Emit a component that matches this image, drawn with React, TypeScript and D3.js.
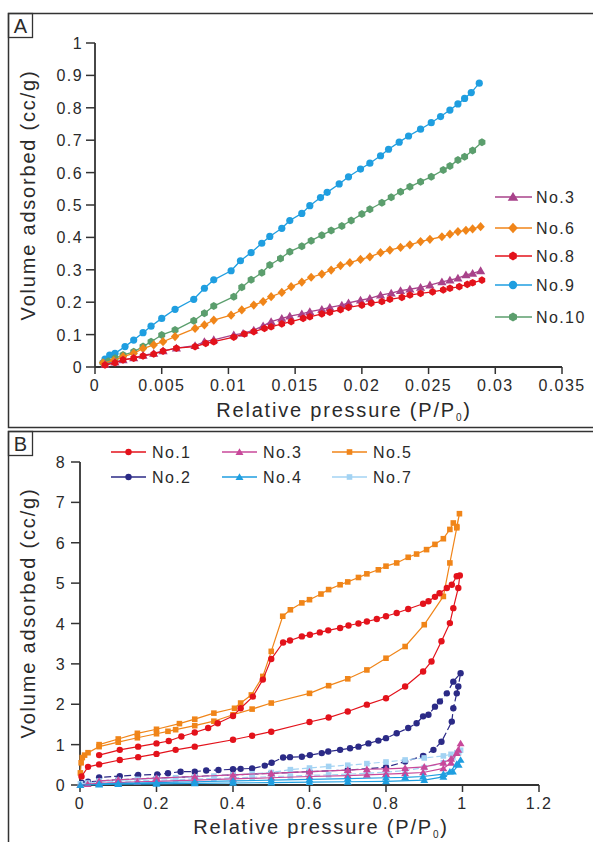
import React from 'react';
import * as d3 from 'd3';

type P = [number, number];

// ---------- Panel A data ----------
const aNo3: P[] = [[0.00075,0.008],[0.0015,0.015],[0.0021,0.022],[0.0029,0.028],[0.0036,0.036],[0.0044,0.042],[0.0051,0.050],[0.0061,0.058],[0.0075,0.066],[0.0082,0.078],[0.0089,0.084],[0.0104,0.099],[0.0111,0.104],[0.0119,0.114],[0.0126,0.127],[0.0132,0.140],[0.014,0.150],[0.0146,0.157],[0.0155,0.164],[0.0161,0.171],[0.017,0.178],[0.0176,0.184],[0.0185,0.191],[0.019,0.198],[0.0199,0.206],[0.0206,0.212],[0.0214,0.222],[0.0222,0.228],[0.0229,0.236],[0.0236,0.240],[0.0244,0.246],[0.0251,0.253],[0.026,0.263],[0.0266,0.268],[0.0272,0.274],[0.0278,0.284],[0.0283,0.289],[0.0289,0.297]];
const aNo6: P[] = [[0.0006,0.013],[0.0014,0.020],[0.0021,0.032],[0.0029,0.042],[0.0036,0.057],[0.0044,0.068],[0.0051,0.078],[0.006,0.094],[0.0075,0.119],[0.0082,0.130],[0.0089,0.145],[0.0102,0.160],[0.011,0.176],[0.0119,0.191],[0.0126,0.202],[0.0132,0.217],[0.014,0.230],[0.0147,0.248],[0.0155,0.262],[0.0162,0.277],[0.017,0.287],[0.0177,0.299],[0.0184,0.313],[0.0191,0.322],[0.0199,0.332],[0.0206,0.340],[0.0214,0.353],[0.0221,0.361],[0.0229,0.369],[0.0236,0.377],[0.0244,0.387],[0.0251,0.394],[0.026,0.402],[0.0266,0.410],[0.0272,0.418],[0.0278,0.422],[0.0283,0.426],[0.0289,0.433]];
const aNo8: P[] = [[0.00075,0.006],[0.0015,0.013],[0.0021,0.022],[0.0029,0.027],[0.0036,0.034],[0.0044,0.040],[0.0051,0.049],[0.0061,0.058],[0.0075,0.063],[0.0083,0.073],[0.0089,0.078],[0.0104,0.092],[0.0112,0.102],[0.0119,0.109],[0.0127,0.119],[0.0132,0.124],[0.014,0.133],[0.0147,0.140],[0.0156,0.150],[0.0161,0.155],[0.017,0.164],[0.0176,0.169],[0.0184,0.177],[0.019,0.184],[0.02,0.191],[0.0207,0.197],[0.0215,0.202],[0.0221,0.209],[0.023,0.215],[0.0236,0.222],[0.0244,0.227],[0.0253,0.232],[0.0261,0.238],[0.0266,0.243],[0.0273,0.248],[0.0279,0.255],[0.0283,0.260],[0.029,0.268]];
const aNo9: P[] = [[0.00075,0.024],[0.0011,0.037],[0.0015,0.042],[0.00225,0.063],[0.0029,0.083],[0.0036,0.106],[0.0042,0.126],[0.005,0.150],[0.006,0.178],[0.0074,0.209],[0.0082,0.243],[0.0089,0.269],[0.0102,0.297],[0.0109,0.328],[0.0117,0.353],[0.0125,0.382],[0.0131,0.403],[0.014,0.428],[0.0146,0.452],[0.0155,0.474],[0.0161,0.498],[0.0169,0.523],[0.0174,0.539],[0.0183,0.565],[0.019,0.587],[0.0199,0.611],[0.0206,0.629],[0.0214,0.652],[0.022,0.672],[0.0228,0.694],[0.0235,0.713],[0.0244,0.734],[0.0252,0.754],[0.0259,0.773],[0.0266,0.793],[0.0272,0.812],[0.0277,0.829],[0.0282,0.847],[0.0288,0.876]];
const aNo10: P[] = [[0.0006,0.013],[0.001,0.018],[0.0015,0.027],[0.0021,0.037],[0.0029,0.047],[0.0036,0.063],[0.0042,0.078],[0.005,0.099],[0.006,0.114],[0.0074,0.143],[0.0082,0.166],[0.0089,0.188],[0.0104,0.217],[0.011,0.246],[0.0117,0.269],[0.0125,0.291],[0.0131,0.315],[0.0139,0.335],[0.0146,0.356],[0.0155,0.373],[0.0162,0.390],[0.017,0.407],[0.0177,0.421],[0.0185,0.435],[0.0192,0.452],[0.02,0.472],[0.0206,0.487],[0.0215,0.507],[0.0222,0.524],[0.0229,0.541],[0.0236,0.556],[0.0244,0.572],[0.0252,0.587],[0.0261,0.608],[0.0266,0.620],[0.0272,0.639],[0.0277,0.649],[0.0283,0.668],[0.029,0.694]];

const aXTicks = [0, 0.005, 0.01, 0.015, 0.02, 0.025, 0.03, 0.035];
const aXLabels = ['0', '0.005', '0.01', '0.015', '0.02', '0.025', '0.03', '0.035'];
const aYTicks = [0, 0.1, 0.2, 0.3, 0.4, 0.5, 0.6, 0.7, 0.8, 0.9, 1];
const aYLabels = ['0', '0.1', '0.2', '0.3', '0.4', '0.5', '0.6', '0.7', '0.8', '0.9', '1'];

// ---------- Panel B data (adsorption branch followed by desorption branch) ----------
const bNo1: P[] = [[0.004,0.21],[0.021,0.45],[0.05,0.51],[0.104,0.62],[0.152,0.69],[0.20,0.77],[0.25,0.87],[0.30,0.95],[0.40,1.12],[0.45,1.22],[0.50,1.32],[0.60,1.56],[0.65,1.67],[0.70,1.82],[0.75,1.99],[0.80,2.15],[0.85,2.44],[0.897,2.81],[0.919,3.06],[0.945,3.56],[0.967,4.01],[0.976,4.38],[0.989,4.88],[0.993,5.19],
  [0.985,5.17],[0.972,4.96],[0.959,4.88],[0.94,4.75],[0.928,4.66],[0.911,4.55],[0.897,4.49],[0.858,4.36],[0.828,4.26],[0.80,4.18],[0.776,4.11],[0.75,4.05],[0.728,4.00],[0.702,3.95],[0.68,3.89],[0.649,3.83],[0.627,3.78],[0.601,3.72],[0.58,3.68],[0.549,3.58],[0.531,3.53],[0.50,3.12],[0.478,2.61],[0.452,2.19],[0.42,1.90],[0.40,1.71],[0.36,1.53],[0.335,1.41],[0.30,1.30],[0.265,1.20],[0.232,1.09],[0.20,1.03],[0.152,0.95],[0.104,0.87],[0.05,0.74]];
const bNo2: P[] = [[0.005,0.05],[0.021,0.08],[0.1,0.13],[0.2,0.17],[0.3,0.21],[0.4,0.25],[0.5,0.29],[0.6,0.33],[0.7,0.37],[0.8,0.44],[0.85,0.58],[0.897,0.72],[0.924,0.87],[0.945,1.07],[0.972,1.57],[0.976,1.90],[0.985,2.27],[0.989,2.44],[0.995,2.77],
  [0.976,2.56],[0.959,2.27],[0.941,2.07],[0.928,1.94],[0.911,1.74],[0.897,1.70],[0.88,1.53],[0.858,1.41],[0.828,1.28],[0.80,1.16],[0.78,1.10],[0.754,1.03],[0.728,0.95],[0.706,0.91],[0.68,0.87],[0.649,0.83],[0.632,0.79],[0.601,0.74],[0.58,0.70],[0.549,0.69],[0.531,0.68],[0.501,0.55],[0.483,0.48],[0.45,0.41],[0.42,0.40],[0.40,0.39],[0.362,0.37],[0.33,0.36],[0.30,0.33],[0.263,0.33],[0.23,0.29],[0.202,0.26],[0.152,0.25],[0.104,0.22],[0.05,0.19]];
const bNo3: P[] = [[0.001,0.0],[0.02,0.02],[0.05,0.04],[0.1,0.06],[0.15,0.08],[0.2,0.09],[0.3,0.12],[0.4,0.15],[0.5,0.18],[0.6,0.21],[0.7,0.23],[0.75,0.25],[0.8,0.27],[0.85,0.29],[0.897,0.31],[0.95,0.41],[0.97,0.55],[0.985,0.79],[0.995,1.03],
  [0.989,0.87],[0.97,0.65],[0.95,0.55],[0.9,0.45],[0.85,0.42],[0.8,0.40],[0.75,0.39],[0.7,0.37],[0.6,0.33],[0.5,0.29],[0.4,0.25],[0.3,0.21],[0.2,0.17],[0.1,0.13],[0.05,0.10]];
const bNo4: P[] = [[0.001,0.0],[0.05,0.01],[0.1,0.02],[0.2,0.03],[0.3,0.04],[0.4,0.05],[0.5,0.06],[0.6,0.07],[0.7,0.08],[0.8,0.09],[0.9,0.12],[0.95,0.20],[0.975,0.33],[0.99,0.50],[0.995,0.62],
  [0.985,0.52],[0.967,0.33],[0.95,0.27],[0.897,0.21],[0.85,0.19],[0.8,0.18],[0.7,0.16],[0.6,0.14],[0.5,0.12],[0.4,0.10],[0.3,0.08],[0.2,0.06],[0.1,0.04],[0.05,0.03]];
const bNo5: P[] = [[0.001,0.30],[0.003,0.55],[0.006,0.68],[0.012,0.74],[0.021,0.80],[0.05,0.95],[0.10,1.06],[0.15,1.17],[0.20,1.27],[0.23,1.33],[0.25,1.37],[0.30,1.47],[0.35,1.58],[0.40,1.74],[0.45,1.88],[0.50,2.03],[0.60,2.27],[0.65,2.46],[0.70,2.63],[0.75,2.85],[0.80,3.14],[0.85,3.43],[0.90,3.97],[0.95,4.67],[0.967,5.50],[0.985,6.37],[0.992,6.72],
  [0.985,6.40],[0.976,6.49],[0.967,6.33],[0.95,6.10],[0.928,5.96],[0.906,5.83],[0.88,5.72],[0.858,5.64],[0.828,5.50],[0.80,5.42],[0.78,5.33],[0.75,5.23],[0.728,5.14],[0.70,5.03],[0.68,4.96],[0.65,4.84],[0.63,4.73],[0.60,4.59],[0.58,4.51],[0.55,4.34],[0.53,4.18],[0.50,3.31],[0.478,2.69],[0.448,2.23],[0.42,2.03],[0.404,1.90],[0.35,1.78],[0.30,1.63],[0.26,1.52],[0.20,1.38],[0.15,1.28],[0.10,1.14],[0.05,1.00]];
const bNo7: P[] = [[0.001,0.03],[0.02,0.05],[0.05,0.07],[0.1,0.09],[0.15,0.10],[0.2,0.12],[0.25,0.13],[0.3,0.15],[0.35,0.16],[0.4,0.18],[0.45,0.19],[0.5,0.21],[0.55,0.22],[0.6,0.24],[0.65,0.25],[0.7,0.27],[0.75,0.29],[0.8,0.32],[0.85,0.36],[0.9,0.43],[0.95,0.55],[0.975,0.68],[0.99,0.80],[0.995,0.86],
  [0.985,0.80],[0.97,0.76],[0.95,0.72],[0.9,0.67],[0.85,0.62],[0.8,0.57],[0.75,0.53],[0.7,0.49],[0.65,0.46],[0.6,0.42],[0.55,0.38],[0.5,0.31],[0.45,0.28],[0.4,0.25],[0.35,0.22],[0.3,0.20],[0.25,0.18],[0.2,0.16],[0.15,0.14],[0.1,0.12],[0.05,0.10]];

const bXTicks = [0, 0.2, 0.4, 0.6, 0.8, 1, 1.2];
const bXLabels = ['0', '0.2', '0.4', '0.6', '0.8', '1', '1.2'];
const bYTicks = [0, 1, 2, 3, 4, 5, 6, 7, 8];
const bYLabels = ['0', '1', '2', '3', '4', '5', '6', '7', '8'];

// ---------- styling ----------
const FONT = '"Liberation Sans", Arial, sans-serif';
const AX = '#333';
const TXT = '#2a2a2a';

type Shape = 'circle' | 'hex' | 'diamond' | 'triangle' | 'square';
interface Series { name: string; data: P[]; color: string; shape: Shape; msize: number; dash?: string; }

const seriesA: Series[] = [
  { name: 'No.9', data: aNo9, color: '#1f9ee0', shape: 'circle', msize: 3.6 },
  { name: 'No.10', data: aNo10, color: '#5b9e6d', shape: 'hex', msize: 4 },
  { name: 'No.6', data: aNo6, color: '#f08519', shape: 'diamond', msize: 4.2 },
  { name: 'No.3', data: aNo3, color: '#a8428a', shape: 'triangle', msize: 4.2 },
  { name: 'No.8', data: aNo8, color: '#e3121b', shape: 'hex', msize: 3.8 },
];
const legendA = ['No.3', 'No.6', 'No.8', 'No.9', 'No.10'];
const legendAY = [197, 228, 256, 285, 317];

const seriesB: Series[] = [
  { name: 'No.5', data: bNo5, color: '#f08519', shape: 'square', msize: 2.8 },
  { name: 'No.1', data: bNo1, color: '#e3121b', shape: 'circle', msize: 3.2 },
  { name: 'No.2', data: bNo2, color: '#2b2a86', shape: 'circle', msize: 3.2, dash: '7 3' },
  { name: 'No.7', data: bNo7, color: '#a3d3f3', shape: 'square', msize: 2.8, dash: '6 3' },
  { name: 'No.3', data: bNo3, color: '#c8489a', shape: 'triangle', msize: 3.6 },
  { name: 'No.4', data: bNo4, color: '#1f9ee0', shape: 'triangle', msize: 3.6 },
];
const legendB = [['No.1', 'No.2'], ['No.3', 'No.4'], ['No.5', 'No.7']];
const legendBX = [111, 222, 332];
const legendBY = [452, 477];

const xA = d3.scaleLinear().domain([0, 0.035]).range([95, 562]);
const yA = d3.scaleLinear().domain([0, 1]).range([367, 43]);
const xB = d3.scaleLinear().domain([0, 1.2]).range([80, 539]);
const yB = d3.scaleLinear().domain([0, 8]).range([785, 462]);

function markerPath(shape: Shape, r: number): string {
  if (shape === 'circle') return d3.symbol().type(d3.symbolCircle).size(Math.PI * r * r)() as string;
  if (shape === 'square') return `M${-r},${-r}H${r}V${r}H${-r}Z`;
  if (shape === 'diamond') return `M0,${-r * 1.1}L${r},0L0,${r * 1.1}L${-r},0Z`;
  if (shape === 'triangle') return `M0,${-r * 1.05}L${r * 1.1},${r * 0.8}L${-r * 1.1},${r * 0.8}Z`;
  const pts = d3.range(6).map((k) => {
    const a = (Math.PI / 3) * k + Math.PI / 6;
    return [r * Math.cos(a), r * Math.sin(a)] as [number, number];
  });
  return 'M' + pts.map((p) => p.join(',')).join('L') + 'Z';
}

function SeriesG({ s, x, y, lw }: { s: Series; x: d3.ScaleLinear<number, number>; y: d3.ScaleLinear<number, number>; lw: number }) {
  const line = d3.line<P>().x((d) => x(d[0])).y((d) => y(d[1]));
  const mp = markerPath(s.shape, s.msize);
  return (
    <g>
      <path d={line(s.data) as string} fill="none" stroke={s.color} strokeWidth={lw} strokeDasharray={s.dash} strokeLinejoin="round" />
      {s.data.map((d, i) => (
        <path key={i} d={mp} transform={`translate(${x(d[0])},${y(d[1])})`} fill={s.color} />
      ))}
    </g>
  );
}

function XTitle({ cx, y }: { cx: number; y: number }) {
  return (
    <text x={cx} y={y} textAnchor="middle" fontFamily={FONT} fontSize={20} letterSpacing={1.8} fill={TXT}>
      Relative pressure (P/P<tspan fontSize={10} dy={4}>0</tspan><tspan dy={-4}>)</tspan>
    </text>
  );
}

function YTitle({ cx, cy }: { cx: number; cy: number }) {
  return (
    <text transform={`translate(${cx},${cy}) rotate(-90)`} textAnchor="middle" dominantBaseline="central" fontFamily={FONT} fontSize={20} letterSpacing={1.8} fill={TXT}>
      Volume adsorbed (cc/g)
    </text>
  );
}

export default function App() {
  const tickFont = { fontFamily: FONT, fontSize: 16, letterSpacing: 1.4, fill: TXT } as const;
  return (
    <svg width={593} height={842} style={{ position: 'absolute', left: 0, top: 0, background: '#fff' }}>
      <rect x={0} y={0} width={593} height={842} fill="#fff" />
      {/* Panel frames (right edge lies beyond the picture) */}
      <rect x={8.5} y={13.5} width={600} height={414} fill="none" stroke={AX} strokeWidth={1.5} />
      <rect x={8.5} y={13.5} width={24} height={24} fill="none" stroke={AX} strokeWidth={1.3} />
      <text x={20.5} y={33} textAnchor="middle" fontFamily={FONT} fontSize={20} fill={TXT}>A</text>
      <rect x={8.5} y={431.5} width={600} height={420} fill="none" stroke={AX} strokeWidth={1.5} />
      <rect x={8.5} y={431.5} width={24} height={24} fill="none" stroke={AX} strokeWidth={1.3} />
      <text x={20.5} y={451} textAnchor="middle" fontFamily={FONT} fontSize={20} fill={TXT}>B</text>

      {/* ---------- Panel A ---------- */}
      <g>
        <line x1={xA(0)} x2={xA(0.035)} y1={yA(0)} y2={yA(0)} stroke={AX} strokeWidth={1.8} />
        <line x1={xA(0)} x2={xA(0)} y1={yA(0)} y2={yA(1)} stroke={AX} strokeWidth={1.8} />
        {aXTicks.map((t, i) => (
          <g key={i}>
            <line x1={xA(t)} x2={xA(t)} y1={yA(0)} y2={yA(0) + 7} stroke={AX} strokeWidth={1.5} />
            <text x={xA(t)} y={yA(0) + 24} textAnchor="middle" {...tickFont}>{aXLabels[i]}</text>
          </g>
        ))}
        {aYTicks.map((t, i) => (
          <g key={i}>
            <line x1={xA(0) - 9} x2={xA(0)} y1={yA(t)} y2={yA(t)} stroke={AX} strokeWidth={1.5} />
            <text x={xA(0) - 12} y={yA(t) + 6} textAnchor="end" {...tickFont}>{aYLabels[i]}</text>
          </g>
        ))}
        {seriesA.map((s) => <SeriesG key={s.name} s={s} x={xA} y={yA} lw={1.3} />)}
        {legendA.map((n, i) => {
          const s = seriesA.find((q) => q.name === n)!;
          const yy = legendAY[i];
          return (
            <g key={n}>
              <line x1={495} x2={532} y1={yy} y2={yy} stroke={s.color} strokeWidth={1.5} />
              <path d={markerPath(s.shape, s.msize + 0.6)} transform={`translate(513,${yy})`} fill={s.color} />
              <text x={536} y={yy + 6} {...tickFont}>{n}</text>
            </g>
          );
        })}
        <XTitle cx={344} y={417} />
        <YTitle cx={28} cy={195} />
      </g>

      {/* ---------- Panel B ---------- */}
      <g>
        <line x1={xB(0)} x2={xB(1.2)} y1={yB(0)} y2={yB(0)} stroke={AX} strokeWidth={1.8} />
        <line x1={xB(0)} x2={xB(0)} y1={yB(0)} y2={yB(8)} stroke={AX} strokeWidth={1.8} />
        {bXTicks.map((t, i) => (
          <g key={i}>
            <line x1={xB(t)} x2={xB(t)} y1={yB(0)} y2={yB(0) + 7} stroke={AX} strokeWidth={1.5} />
            <text x={xB(t)} y={yB(0) + 24} textAnchor="middle" {...tickFont}>{bXLabels[i]}</text>
          </g>
        ))}
        {bYTicks.map((t, i) => (
          <g key={i}>
            <line x1={xB(0) - 9} x2={xB(0)} y1={yB(t)} y2={yB(t)} stroke={AX} strokeWidth={1.5} />
            <text x={xB(0) - 14} y={yB(t) + 6} textAnchor="end" {...tickFont}>{bYLabels[i]}</text>
          </g>
        ))}
        {seriesB.map((s) => <SeriesG key={s.name} s={s} x={xB} y={yB} lw={1.2} />)}
        {legendB.map((col, ci) =>
          col.map((n, ri) => {
            const s = seriesB.find((q) => q.name === n)!;
            const x0 = legendBX[ci];
            const yy = legendBY[ri];
            return (
              <g key={n}>
                <line x1={x0} x2={x0 + 35} y1={yy} y2={yy} stroke={s.color} strokeWidth={1.5} />
                <path d={markerPath(s.shape, s.msize)} transform={`translate(${x0 + 17.5},${yy})`} fill={s.color} />
                <text x={x0 + 41} y={yy + 6} {...tickFont}>{n}</text>
              </g>
            );
          })
        )}
        <XTitle cx={321} y={834} />
        <YTitle cx={28} cy={613} />
      </g>
    </svg>
  );
}
